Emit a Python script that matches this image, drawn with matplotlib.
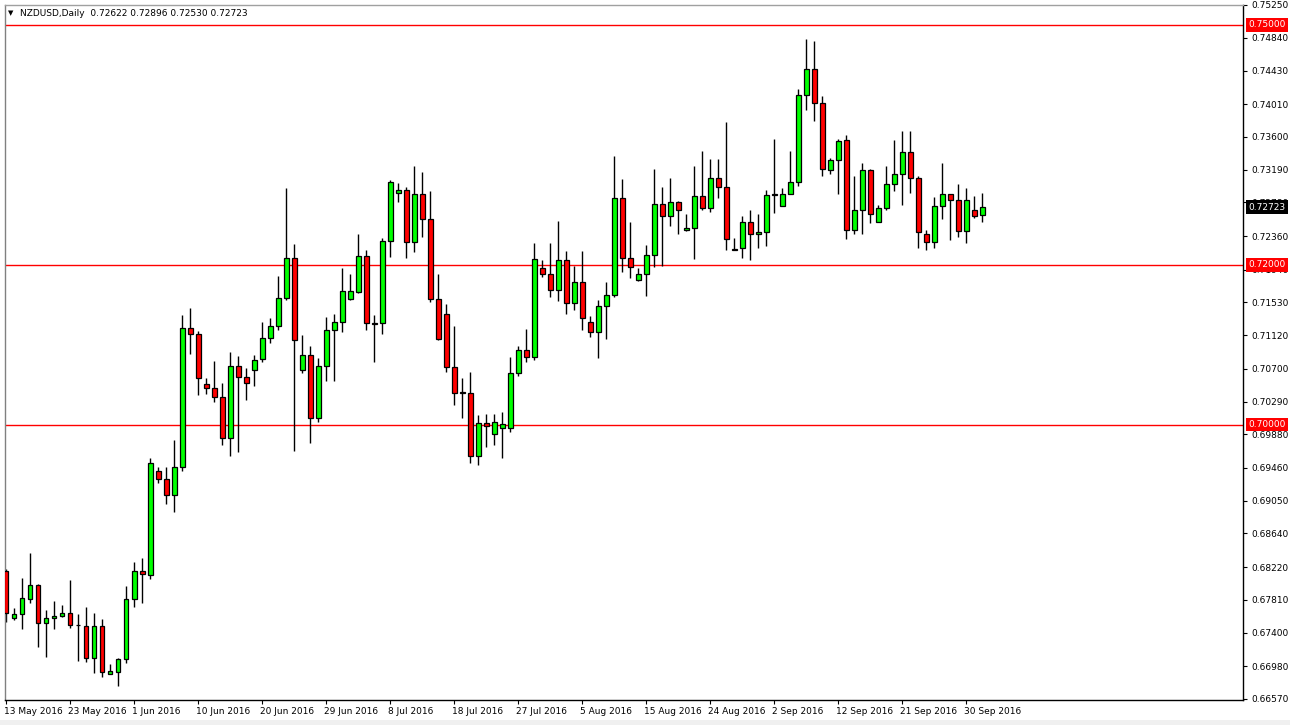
import matplotlib.pyplot as plt
import matplotlib.transforms as mtransforms
import pandas as pd

# daily NZDUSD bars (incl. Sunday bars), 13 May 2016 .. 3 Oct 2016
opens = [0.6817, 0.6758, 0.6763, 0.6782, 0.6799, 0.6752, 0.6758, 0.6761, 0.6764, 0.6750,
         0.6748, 0.6708, 0.6748, 0.6688, 0.6691, 0.6707, 0.6782, 0.6817, 0.6812, 0.6942,
         0.6932, 0.6912, 0.6947, 0.7121, 0.7114, 0.7051, 0.7046, 0.7035, 0.6984, 0.7074,
         0.7060, 0.7068, 0.7082, 0.7109, 0.7123, 0.7158, 0.7208, 0.7068, 0.7087, 0.7008,
         0.7073, 0.7119, 0.7128, 0.7157, 0.7166, 0.7211, 0.7127, 0.7127, 0.7230, 0.7290,
         0.7294, 0.7229, 0.7289, 0.7257, 0.7157, 0.7139, 0.7072, 0.7041, 0.7040, 0.6961,
         0.7002, 0.6988, 0.6996, 0.6996, 0.7065, 0.7094, 0.7085, 0.7196, 0.7188, 0.7168,
         0.7206, 0.7152, 0.7178, 0.7128, 0.7116, 0.7148, 0.7162, 0.7283, 0.7208, 0.7181,
         0.7188, 0.7212, 0.7276, 0.7261, 0.7278, 0.7243, 0.7246, 0.7286, 0.7271, 0.7309,
         0.7297, 0.7220, 0.7221, 0.7253, 0.7238, 0.7241, 0.7288, 0.7274, 0.7289, 0.7304,
         0.7412, 0.7445, 0.7403, 0.7319, 0.7331, 0.7356, 0.7243, 0.7269, 0.7318, 0.7253,
         0.7271, 0.7301, 0.7314, 0.7341, 0.7308, 0.7239, 0.7229, 0.7274, 0.7289, 0.7281,
         0.7242, 0.7268, 0.72622]
highs = [0.6819, 0.6771, 0.6808, 0.6840, 0.6801, 0.6768, 0.6779, 0.6774, 0.6806, 0.6763,
         0.6772, 0.6765, 0.6757, 0.6701, 0.6708, 0.6798, 0.6828, 0.6833, 0.6958, 0.6947,
         0.6947, 0.6981, 0.7137, 0.7146, 0.7117, 0.7059, 0.7080, 0.7052, 0.7091, 0.7086,
         0.7071, 0.7087, 0.7128, 0.7133, 0.7186, 0.7296, 0.7226, 0.7112, 0.7098, 0.7083,
         0.7135, 0.7139, 0.7196, 0.7189, 0.7239, 0.7219, 0.7137, 0.7233, 0.7306, 0.7302,
         0.7297, 0.7323, 0.7316, 0.7292, 0.7189, 0.7151, 0.7124, 0.7058, 0.7066, 0.7012,
         0.7014, 0.7014, 0.7016, 0.7085, 0.7098, 0.7120, 0.7227, 0.7206, 0.7227, 0.7255,
         0.7217, 0.7198, 0.7217, 0.7136, 0.7156, 0.7178, 0.7336, 0.7307, 0.7253, 0.7196,
         0.7225, 0.7320, 0.7297, 0.7308, 0.7280, 0.7264, 0.7324, 0.7342, 0.7332, 0.7333,
         0.7379, 0.7233, 0.7261, 0.7269, 0.7263, 0.7294, 0.7357, 0.7296, 0.7342, 0.7420,
         0.7482, 0.7480, 0.7411, 0.7334, 0.7358, 0.7362, 0.7311, 0.7328, 0.7320, 0.7275,
         0.7324, 0.7356, 0.7367, 0.7367, 0.7311, 0.7244, 0.7285, 0.7328, 0.7289, 0.7301,
         0.7296, 0.7286, 0.72896]
lows = [0.6753, 0.6756, 0.6744, 0.6777, 0.6722, 0.6709, 0.6745, 0.6759, 0.6746, 0.6704,
        0.6703, 0.6690, 0.6685, 0.6688, 0.6673, 0.6702, 0.6772, 0.6777, 0.6807, 0.6927,
        0.6901, 0.6891, 0.6942, 0.7089, 0.7037, 0.7038, 0.7029, 0.6975, 0.6961, 0.6966,
        0.7031, 0.7048, 0.7079, 0.7102, 0.7118, 0.7156, 0.6967, 0.7065, 0.6977, 0.7004,
        0.7055, 0.7055, 0.7116, 0.7156, 0.7165, 0.7119, 0.7078, 0.7114, 0.7210, 0.7279,
        0.7208, 0.7216, 0.7235, 0.7153, 0.7106, 0.7066, 0.7025, 0.7008, 0.6952, 0.6950,
        0.6972, 0.6975, 0.6958, 0.6991, 0.7061, 0.7078, 0.7081, 0.7185, 0.7160, 0.7155,
        0.7139, 0.7144, 0.7119, 0.7110, 0.7083, 0.7107, 0.7160, 0.7191, 0.7183, 0.7180,
        0.7161, 0.7197, 0.7199, 0.7248, 0.7238, 0.7242, 0.7207, 0.7268, 0.7266, 0.7284,
        0.7218, 0.7218, 0.7208, 0.7206, 0.7221, 0.7224, 0.7265, 0.7273, 0.7288, 0.7299,
        0.7394, 0.7380, 0.7311, 0.7314, 0.7288, 0.7232, 0.7238, 0.7238, 0.7252, 0.7253,
        0.7269, 0.7292, 0.7275, 0.7290, 0.7221, 0.7218, 0.7221, 0.7257, 0.7231, 0.7235,
        0.7227, 0.7259, 0.72530]
closes = [0.6764, 0.6763, 0.6783, 0.6799, 0.6752, 0.6758, 0.6761, 0.6764, 0.6749, 0.6749,
          0.6708, 0.6748, 0.6691, 0.6692, 0.6707, 0.6782, 0.6817, 0.6813, 0.6952, 0.6932,
          0.6912, 0.6947, 0.7121, 0.7114, 0.7059, 0.7046, 0.7035, 0.6984, 0.7074, 0.7060,
          0.7052, 0.7081, 0.7109, 0.7123, 0.7158, 0.7208, 0.7106, 0.7087, 0.7008, 0.7073,
          0.7119, 0.7128, 0.7167, 0.7167, 0.7211, 0.7127, 0.7126, 0.7230, 0.7304, 0.7294,
          0.7229, 0.7289, 0.7257, 0.7157, 0.7107, 0.7072, 0.7040, 0.7040, 0.6961, 0.7002,
          0.6998, 0.7003, 0.7001, 0.7065, 0.7094, 0.7085, 0.7207, 0.7188, 0.7168, 0.7206,
          0.7152, 0.7178, 0.7134, 0.7116, 0.7148, 0.7162, 0.7283, 0.7208, 0.7197, 0.7188,
          0.7212, 0.7276, 0.7261, 0.7278, 0.7268, 0.7246, 0.7286, 0.7271, 0.7309, 0.7297,
          0.7232, 0.7219, 0.7253, 0.7238, 0.7241, 0.7287, 0.7287, 0.7289, 0.7304, 0.7412,
          0.7445, 0.7403, 0.7320, 0.7331, 0.7355, 0.7243, 0.7269, 0.7318, 0.7264, 0.7271,
          0.7301, 0.7314, 0.7341, 0.7308, 0.7241, 0.7229, 0.7274, 0.7289, 0.7281, 0.7242,
          0.7281, 0.7261, 0.72723]

# trading days: every day except Saturday
dates = [d for d in pd.date_range('2016-05-13', '2016-10-03') if d.dayofweek != 5]

date_labels = ['13 May 2016', '23 May 2016', '1 Jun 2016', '10 Jun 2016', '20 Jun 2016',
               '29 Jun 2016', '8 Jul 2016', '18 Jul 2016', '27 Jul 2016', '5 Aug 2016',
               '15 Aug 2016', '24 Aug 2016', '2 Sep 2016', '12 Sep 2016', '21 Sep 2016',
               '30 Sep 2016']
price_ticks = [0.75250, 0.74840, 0.74430, 0.74010, 0.73600, 0.73190, 0.72780, 0.72360,
               0.71940, 0.71530, 0.71120, 0.70700, 0.70290, 0.69880, 0.69460, 0.69050,
               0.68640, 0.68220, 0.67810, 0.67400, 0.66980, 0.66570]
levels = [0.75, 0.72, 0.70]
header = 'NZDUSD,Daily  0.72622 0.72896 0.72530 0.72723'

FS = 6.5
W, H = 1290, 725
fig = plt.figure(figsize=(W / 100, H / 100), dpi=100)
fig.patch.set_facecolor('white')
ax = fig.add_axes([5 / W, 25 / H, 1238 / W, 695 / H])

x = list(range(len(opens)))
up = [c >= o for o, c in zip(opens, closes)]
body_lo = [min(o, c) for o, c in zip(opens, closes)]
body_h = [max(abs(c - o), 0.00002) for o, c in zip(opens, closes)]
colors = ['#00ff00' if u else '#ff0000' for u in up]

ax.vlines(x, lows, highs, color='black', lw=1, zorder=2)
ax.bar(x, body_h, bottom=body_lo, width=0.62, color=colors,
       edgecolor='black', linewidth=0.9, zorder=3)

for lv in levels:
    ax.axhline(lv, color='#ff0000', lw=1, zorder=1)

ax.set_xlim(-0.125, 154.6)
ax.set_ylim(0.66557, 0.7525)

# time scale
pos = [dates.index(pd.Timestamp(lbl)) for lbl in date_labels]
ax.set_xticks(pos)
ax.set_xticklabels(date_labels, ha='left', fontsize=FS)
ax.tick_params(axis='x', length=3, pad=2, direction='out')
for t in ax.get_xticklabels():
    t.set_transform(t.get_transform() + mtransforms.ScaledTranslation(-2 / 100, 0, fig.dpi_scale_trans))

# price scale
ax.yaxis.tick_right()
ax.set_yticks(price_ticks)
ax.set_yticklabels(['%.5f' % v for v in price_ticks], fontsize=FS)
ax.tick_params(axis='y', length=3, pad=3, direction='out')

for s in ax.spines.values():
    s.set_color('black')
    s.set_linewidth(1)
ax.spines['top'].set_color('#a0a0a0')
ax.spines['left'].set_color('#808080')

# highlighted price labels
trans = mtransforms.blended_transform_factory(ax.transAxes, ax.transData)
for lv in levels:
    ax.text(1.0045, lv, '%.5f' % lv, transform=trans, fontsize=FS, color='white',
            va='center', ha='left', clip_on=False, zorder=10,
            bbox=dict(boxstyle='square,pad=0.25', fc='#ff0000', ec='none'))
ax.text(1.0045, closes[-1], '%.5f' % closes[-1], transform=trans, fontsize=FS,
        color='white', va='center', ha='left', clip_on=False, zorder=10,
        bbox=dict(boxstyle='square,pad=0.25', fc='black', ec='none'))

# header
fig.text(8 / W, 1 - 13 / H, '\u25bc', fontsize=5, va='center', ha='left')
fig.text(20 / W, 1 - 13 / H, header, fontsize=FS, va='center', ha='left')

# window frame
fig.patches.append(plt.Rectangle((0, 0), 1, 5 / H, transform=fig.transFigure,
                                 fc='#f0f0f0', ec='none', zorder=0))

fig.savefig('out.png', dpi=100)
